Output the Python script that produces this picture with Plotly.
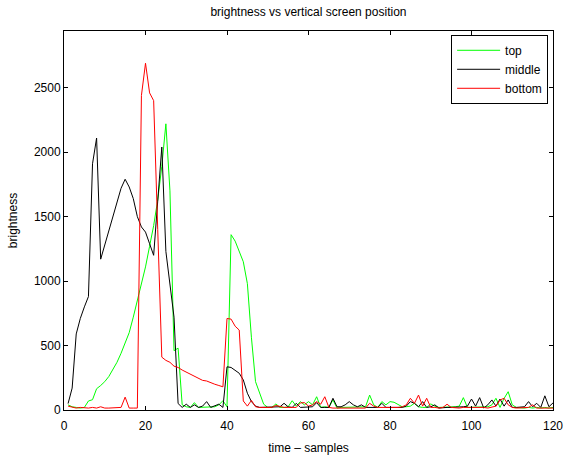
import plotly.graph_objects as go

samples = list(range(1, 121))

top = [40, 25, 20, 15, 20, 70, 80, 165, 190, 220,
       260, 310, 370, 440, 520, 600, 720, 850, 990, 1110,
       1270, 1430, 1630, 1890, 2220, 1700, 460, 480, 40, 25,
       20, 57, 20, 20, 20, 20, 25, 40, 72, 25,
       1360, 1310, 1230, 1150, 980, 560, 220, 130, 45, 20,
       20, 47, 20, 20, 25, 72, 30, 65, 40, 65,
       40, 103, 20, 25, 20, 78, 15, 20, 20, 20,
       20, 20, 20, 25, 116, 40, 20, 65, 40, 65,
       60, 40, 25, 25, 30, 52, 25, 20, 20, 47,
       30, 20, 20, 20, 20, 25, 30, 96, 20, 20,
       20, 20, 20, 25, 40, 91, 20, 90, 142, 40,
       20, 15, 15, 20, 15, 20, 15, 20, 15, 20]

middle = [50, 170, 590, 710, 800, 880, 1910, 2110, 1170, 1280,
          1390, 1490, 1600, 1720, 1790, 1730, 1640, 1500, 1420, 1380,
          1290, 1200, 1620, 2040, 1230, 950, 720, 50, 20, 45,
          20, 40, 20, 30, 65, 20, 30, 45, 20, 335,
          330, 310, 285, 233, 130, 65, 30, 20, 20, 20,
          20, 20, 25, 52, 25, 20, 52, 20, 20, 20,
          25, 57, 20, 20, 20, 91, 25, 25, 40, 65,
          40, 25, 40, 20, 20, 25, 20, 52, 20, 20,
          20, 20, 20, 30, 65, 52, 25, 65, 20, 25,
          40, 15, 20, 20, 20, 20, 20, 25, 30, 85,
          30, 96, 15, 40, 78, 30, 85, 30, 78, 20,
          20, 20, 25, 65, 25, 52, 20, 110, 25, 55]

bottom = [30, 20, 15, 20, 15, 15, 20, 15, 25, 15,
          15, 15, 15, 20, 100, 15, 15, 15, 2440, 2690,
          2460, 2400, 1400, 410, 385, 370, 340, 330, 310, 295,
          280, 265, 245, 230, 225, 210, 200, 190, 180, 710,
          705, 650, 620, 70, 30, 75, 25, 20, 20, 25,
          20, 35, 25, 20, 20, 20, 20, 55, 57, 30,
          40, 65, 45, 103, 20, 15, 15, 15, 15, 15,
          15, 15, 15, 15, 52, 30, 20, 20, 20, 15,
          20, 20, 25, 40, 91, 52, 116, 30, 91, 20,
          20, 15, 20, 45, 20, 15, 15, 20, 20, 20,
          20, 25, 20, 15, 20, 30, 78, 91, 40, 20,
          15, 15, 15, 20, 40, 15, 15, 15, 15, 15]

x_ticks = [0, 20, 40, 60, 80, 100, 120]
y_ticks = [0, 500, 1000, 1500, 2000, 2500]

FONT = "Liberation Sans, Arial, Helvetica, sans-serif"

fig = go.Figure()
for name, vals, col in [("top", top, "#00ff00"),
                        ("middle", middle, "#000000"),
                        ("bottom", bottom, "#ff0000")]:
    fig.add_trace(go.Scatter(x=samples, y=vals, mode="lines", name=name,
                             line=dict(color=col, width=1)))

axis_common = dict(showline=True, linecolor="black", linewidth=1, mirror="allticks",
                   ticks="inside", ticklen=4, tickcolor="black", showgrid=False,
                   zeroline=False, automargin=False,
                   tickfont=dict(family=FONT, size=12, color="black"))

fig.update_layout(
    width=567, height=455,
    margin=dict(l=64, r=14, t=31, b=45),
    paper_bgcolor="white", plot_bgcolor="white",
    font=dict(family=FONT, size=12, color="black"),
    title=dict(text="brightness vs vertical screen position", x=0.544, xanchor="center",
               y=1 - 12 / 455, yanchor="middle", yref="container",
               font=dict(family=FONT, size=12, color="black")),
    xaxis=dict(range=[0, 120], tickvals=x_ticks, ticklabelstandoff=5,
               title=dict(text="time \u2013 samples", standoff=11,
                          font=dict(family=FONT, size=12)),
               **axis_common),
    yaxis=dict(range=[0, 2940], tickvals=y_ticks,
               title=dict(text="brightness", standoff=13,
                          font=dict(family=FONT, size=12)),
               **axis_common),
    legend=dict(x=0.99, y=0.99, xanchor="right", yanchor="top",
                bgcolor="white", bordercolor="black", borderwidth=1,
                font=dict(family=FONT, size=12, color="black"),
                itemwidth=43, tracegroupgap=0),
    showlegend=True,
)

fig.write_html("out.html")
